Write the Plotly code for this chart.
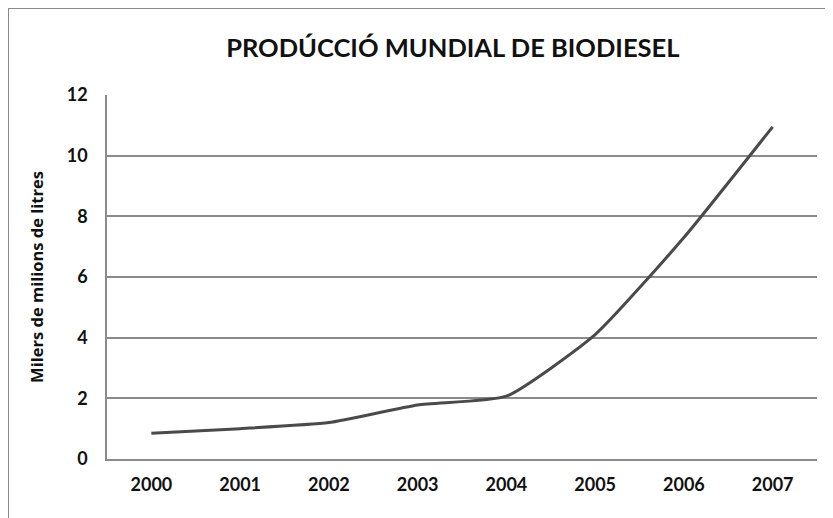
import plotly.graph_objects as go

years = ["2000", "2001", "2002", "2003", "2004", "2005", "2006", "2007"]
production = [0.85, 1.0, 1.2, 1.78, 2.07, 4.1, 7.3, 10.95]
y_ticks = [0, 2, 4, 6, 8, 10, 12]

fig = go.Figure()
fig.add_trace(go.Scatter(
    x=years, y=production, mode="lines",
    line=dict(color="#4a4a4a", width=3, shape="spline", smoothing=0.5),
    showlegend=False, hoverinfo="x+y",
))

# page is offset by the default 8px body margin
L, R, T, B = 99, 24, 87, 67
W, H = 833, 518
pw, ph = W - L - R, H - T - B

def px(x):
    return (x - L) / pw

def py(y):
    return (H - B - y) / ph

fig.update_layout(
    width=W, height=H,
    margin=dict(l=L, r=R, t=T, b=B),
    paper_bgcolor="white", plot_bgcolor="white",
    title=dict(text="<b>PRODÚCCIÓ MUNDIAL DE BIODIESEL</b>",
               x=0.534, xanchor="center", y=1 - 40 / H, yanchor="middle",
               font=dict(family="Lato, Open Sans, sans-serif", size=25.5, color="#111111")),
    font=dict(family="Lato, Open Sans, sans-serif", color="#111111"),
    xaxis=dict(type="category", range=[-0.5, 7.5], showgrid=False, showline=True,
               linecolor="#8a8a8a", linewidth=1.5,
               ticks="outside", ticklen=9, tickcolor="rgba(0,0,0,0)",
               tickfont=dict(size=18, family="Lato, sans-serif", weight="bold"), fixedrange=True),
    yaxis=dict(range=[0, 12], tickvals=y_ticks, showgrid=True, gridcolor="#8a8a8a", gridwidth=1.5,
               showline=True, linecolor="#8a8a8a", linewidth=1.5, zeroline=False,
               ticks="outside", ticklen=14, tickcolor="rgba(0,0,0,0)",
               tickfont=dict(size=18, family="Lato, sans-serif", weight="bold"),
               title=dict(text="<b>Milers de milions de litres</b>", standoff=19,
                          font=dict(size=16.5, family="Open Sans, sans-serif"))),
    shapes=[dict(type="rect", xref="paper", yref="paper",
                 x0=px(0), x1=px(850), y0=py(530), y1=py(0),
                 line=dict(color="#8a8a8a", width=2), fillcolor="rgba(0,0,0,0)")],
)

fig.write_html("out.html")
